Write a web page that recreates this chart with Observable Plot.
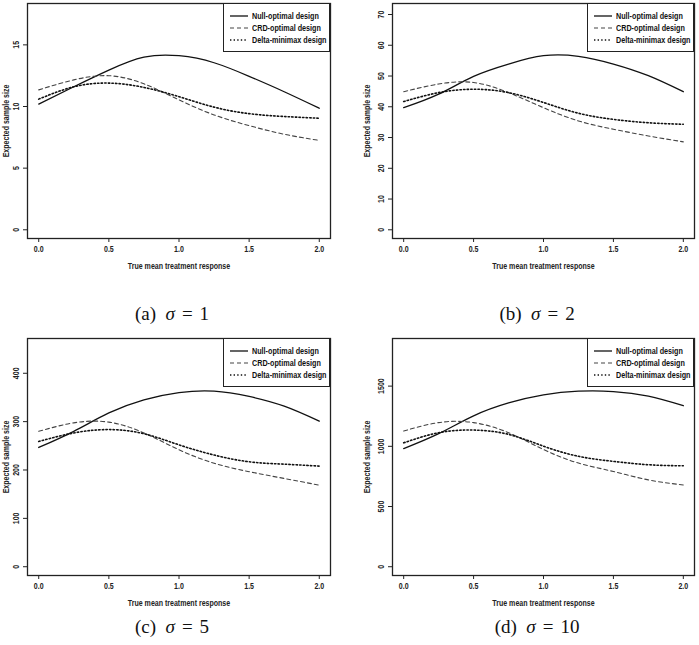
<!DOCTYPE html>
<html>
<head>
<meta charset="utf-8">
<script src="https://cdn.jsdelivr.net/npm/d3@7"></script>
<script src="https://cdn.jsdelivr.net/npm/@observablehq/plot@0.6"></script>
<style>
  html, body { margin: 0; padding: 0; background: #fff; }
  #page { position: relative; width: 699px; height: 645px; overflow: hidden; }
  .panel { position: absolute; }
  .legend { position: absolute; border: 1.3px solid #222; background: #fff; box-sizing: border-box;
            font-family: "Liberation Sans", Arial, sans-serif;
            font-size: 9.9px; font-weight: bold; color: #111; }
  .legend .row { position: absolute; left: 6px; height: 12px; line-height: 12px; white-space: nowrap; }
  .legend svg { vertical-align: middle; margin-right: 4px; }
  .legend .lab { display: inline-block; transform: scaleX(0.73); transform-origin: left center; vertical-align: middle; }
  .caption { position: absolute; font-family: "Liberation Serif", "DejaVu Serif", serif; font-size: 19px;
             color: #111; white-space: nowrap; transform: translateX(-50%); }
  .caption .eq { margin: 0 7px; }
</style>
</head>
<body>
<div id="page"></div>
<script>
// ---- data ----
const xValues = [0, 0.25, 0.5, 0.75, 1.0, 1.25, 1.5, 1.75, 2.0];
const seriesNames = ["Null-optimal design", "CRD-optimal design", "Delta-minimax design"];
const panelLetters = ["a", "b", "c", "d"];
const sigmas = [1, 2, 5, 10];

const nullA  = [10.2, 11.6, 12.95, 14.0, 14.12, 13.55, 12.45, 11.2, 9.86];
const crdA   = [11.35, 12.16, 12.5, 11.84, 10.54, 9.32, 8.45, 7.75, 7.25];
const deltaA = [10.6, 11.6, 11.9, 11.55, 10.8, 9.95, 9.42, 9.19, 9.05];

const nullB  = [39.7, 44.1, 49.9, 53.9, 56.6, 56.4, 53.9, 50.1, 44.9];
const crdB   = [44.9, 47.4, 47.9, 44.6, 39.7, 35.4, 32.7, 30.5, 28.6];
const deltaB = [41.7, 44.6, 45.7, 44.6, 41.4, 37.9, 35.9, 34.8, 34.3];

const nullC  = [246.6, 280, 318, 345, 360, 363, 352, 332, 301];
const crdC   = [280, 297.5, 299, 276.6, 241.8, 214, 196.5, 182.5, 168.6];
const deltaC = [259, 276.6, 283.6, 275, 252, 231, 217, 212, 208];

const nullD  = [981, 1105, 1253, 1360, 1427, 1458, 1455, 1416, 1337];
const crdD   = [1127, 1197, 1197, 1113, 973, 861, 791, 721, 679];
const deltaD = [1029, 1113, 1135, 1099, 1001, 917, 875, 847, 838];

const xTicks = [0, 0.5, 1.0, 1.5, 2.0];
const yTicksA = [0, 5, 10, 15];
const yTicksB = [0, 10, 20, 30, 40, 50, 60, 70];
const yTicksC = [0, 100, 200, 300, 400];
const yTicksD = [0, 500, 1000, 1500];

const xLabel = "True mean treatment response";
const yLabel = "Expected sample size";

// ---- layout ----
const FONT = '"Liberation Sans", Arial, sans-serif';
const panels = [
  {series: [nullA, crdA, deltaA], ticks: yTicksA, left: 0,   top: 0,   width: 350, height: 280, mt: 3,  mr: 20, mb: 42, ml: 27, lo: 25, capX: 172, capY: 303},
  {series: [nullB, crdB, deltaB], ticks: yTicksB, left: 350, top: 0,   width: 349, height: 280, mt: 3,  mr: 5,  mb: 42, ml: 42, lo: 29, capX: 187, capY: 303},
  {series: [nullC, crdC, deltaC], ticks: yTicksC, left: 0,   top: 320, width: 350, height: 290, mt: 18, mr: 20, mb: 35, ml: 27, lo: 25, capX: 172, capY: 296},
  {series: [nullD, crdD, deltaD], ticks: yTicksD, left: 350, top: 320, width: 349, height: 290, mt: 18, mr: 5,  mb: 35, ml: 42, lo: 29, capX: 187, capY: 296}
];
const styles = [
  {stroke: "#111", strokeWidth: 1.3, strokeDasharray: null},
  {stroke: "#444", strokeWidth: 1.1, strokeDasharray: "4,3"},
  {stroke: "#111", strokeWidth: 1.6, strokeDasharray: "1.4,2.2"}
];

const page = document.getElementById("page");

panels.forEach((p, i) => {
  const rows = [];
  p.series.forEach((vals, s) => vals.forEach((v, k) => rows.push({x: xValues[k], v, s: seriesNames[s]})));
  const M = 1.25 * d3.max(p.series[0]);
  const marks = [Plot.frame({stroke: "#222", strokeWidth: 1.3})];
  seriesNames.forEach((name, s) => {
    const st = styles[s];
    marks.push(Plot.line(rows.filter(r => r.s === name), {
      x: "x", y: "v", curve: "natural",
      stroke: st.stroke, strokeWidth: st.strokeWidth,
      ...(st.strokeDasharray ? {strokeDasharray: st.strokeDasharray} : {})
    }));
  });
  const chart = Plot.plot({
    width: p.width, height: p.height,
    marginTop: p.mt, marginRight: p.mr, marginBottom: p.mb, marginLeft: p.ml,
    style: {fontFamily: FONT, fontSize: "9.5px", fontWeight: "bold", color: "#222", background: "transparent"},
    x: {domain: [-0.08, 2.08], ticks: xTicks, tickFormat: d3.format(".1f"), tickSize: 4, tickPadding: 3,
        label: xLabel, labelAnchor: "center", labelOffset: 30, labelArrow: "none"},
    y: {domain: [-0.04 * M, 1.04 * M], ticks: p.ticks, tickFormat: d3.format("d"), tickSize: 4, tickRotate: -90,
        label: yLabel, labelAnchor: "center", labelOffset: p.lo, labelArrow: "none"},
    marks
  });
  const div = document.createElement("div");
  div.className = "panel";
  div.style.left = p.left + "px";
  div.style.top = p.top + "px";
  div.style.width = p.width + "px";
  div.style.height = (p.height + 45) + "px";
  div.appendChild(chart);

  // legend (top-right of frame)
  const lg = document.createElement("div");
  lg.className = "legend";
  lg.style.width = "107px";
  lg.style.height = "49px";
  lg.style.right = p.mr + "px";
  lg.style.top = p.mt + "px";
  seriesNames.forEach((name, s) => {
    const st = styles[s];
    const row = document.createElement("div");
    row.className = "row";
    row.style.top = (6 + s * 12) + "px";
    row.innerHTML = `<svg width="18" height="6"><line x1="0" y1="3" x2="18" y2="3" stroke="${st.stroke}" stroke-width="${st.strokeWidth}" ${st.strokeDasharray ? `stroke-dasharray="${st.strokeDasharray}"` : ""}/></svg><span class="lab">${name}</span>`;
    lg.appendChild(row);
  });
  div.appendChild(lg);

  // caption
  const cap = document.createElement("div");
  cap.className = "caption";
  cap.style.left = p.capX + "px";
  cap.style.top = p.capY + "px";
  cap.innerHTML = `(${panelLetters[i]})&nbsp; <i>σ</i><span class="eq">=</span>${sigmas[i]}`;
  div.appendChild(cap);

  page.appendChild(div);

  // condense the axis text like the original's narrow typeface
  chart.querySelectorAll("text").forEach(t => {
    const L = t.getComputedTextLength();
    if (L > 0) {
      t.setAttribute("textLength", (L * 0.74).toFixed(2));
      t.setAttribute("lengthAdjust", "spacingAndGlyphs");
    }
  });
});
</script>
</body>
</html>
